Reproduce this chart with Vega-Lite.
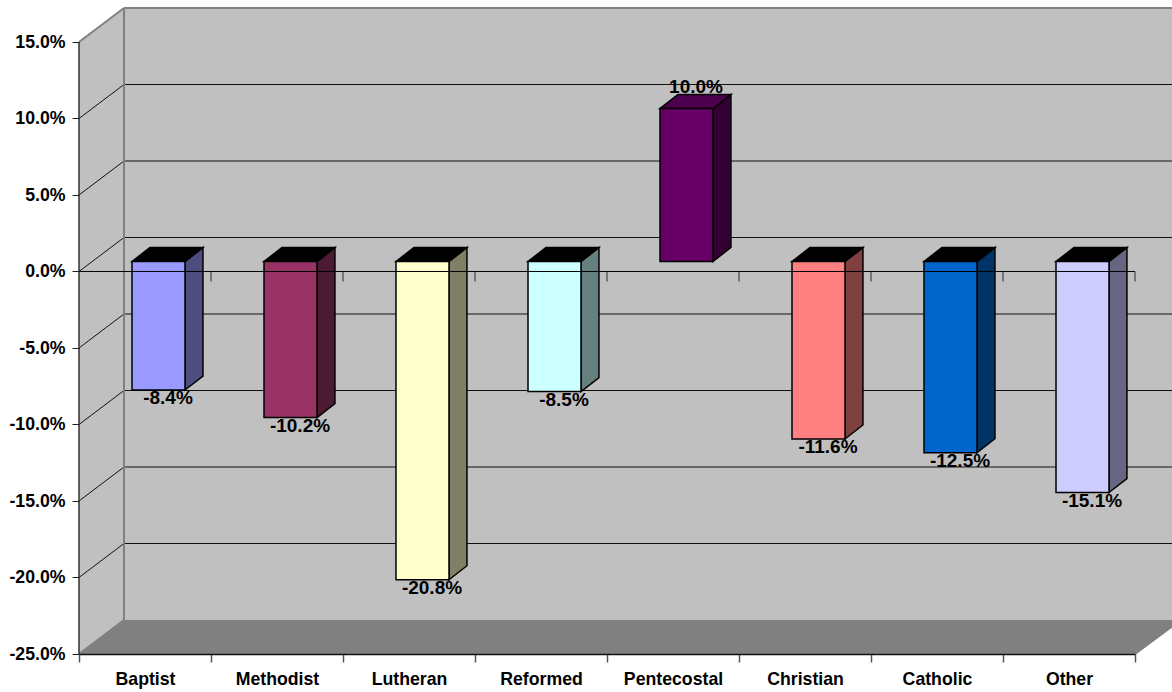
{
"$schema":"https://vega.github.io/schema/vega-lite/v6.json",
"width":1093,"height":646,
"padding":{"left":79,"top":8,"right":0,"bottom":38},
"autosize":{"type":"none"},
"background":"#FFFFFF",
"config":{"view":{"stroke":null},"font":"Liberation Sans"},
"datasets":{
"bars":[
{"category":"Baptist","value":-8.4,"label":"-8.4%"},
{"category":"Methodist","value":-10.2,"label":"-10.2%"},
{"category":"Lutheran","value":-20.8,"label":"-20.8%"},
{"category":"Reformed","value":-8.5,"label":"-8.5%"},
{"category":"Pentecostal","value":10.0,"label":"10.0%"},
{"category":"Christian","value":-11.6,"label":"-11.6%"},
{"category":"Catholic","value":-12.5,"label":"-12.5%"},
{"category":"Other","value":-15.1,"label":"-15.1%"}],
"walls":[
{"face":"left","at":0,"low":-25,"high":15},
{"face":"left","at":0.341,"low":-22.778,"high":17.222},
{"face":"back","at":0.341,"low":-22.778,"high":17.222},
{"face":"back","at":8.2803,"low":-22.778,"high":17.222},
{"face":"floor","at":0,"low":-25,"high":-25},
{"face":"floor","at":0.341,"low":-25,"high":-22.778},
{"face":"floor","at":8,"low":-25,"high":-22.778},
{"face":"floor","at":8.2803,"low":-23.2,"high":-22.778}],
"grid":[
{"at":0,"at2":0.341,"level":10,"level2":12.222},
{"at":0,"at2":0.341,"level":5,"level2":7.222},
{"at":0,"at2":0.341,"level":0,"level2":2.222},
{"at":0,"at2":0.341,"level":-5,"level2":-2.778},
{"at":0,"at2":0.341,"level":-10,"level2":-7.778},
{"at":0,"at2":0.341,"level":-15,"level2":-12.778},
{"at":0,"at2":0.341,"level":-20,"level2":-17.778},
{"at":0.341,"at2":8.2803,"level":12.222,"level2":12.222},
{"at":0.341,"at2":8.2803,"level":7.222,"level2":7.222},
{"at":0.341,"at2":8.2803,"level":2.222,"level2":2.222},
{"at":0.341,"at2":8.2803,"level":-2.778,"level2":-2.778},
{"at":0.341,"at2":8.2803,"level":-7.778,"level2":-7.778},
{"at":0.341,"at2":8.2803,"level":-12.778,"level2":-12.778},
{"at":0.341,"at2":8.2803,"level":-17.778,"level2":-17.778}],
"edges":[
{"at":0.341,"at2":0.341,"level":-22.778,"level2":17.222},
{"at":0,"at2":0.341,"level":15,"level2":17.222},
{"at":0.341,"at2":8.2803,"level":17.222,"level2":17.222},
{"at":0,"at2":0.341,"level":-25,"level2":-22.778},
{"at":8,"at2":8.2803,"level":-25,"level2":-23.2}],
"faces":[
{"face":"Baptist side","at":0.803,"low":-7.746,"high":0.654},
{"face":"Baptist side","at":0.939,"low":-6.831,"high":1.569},
{"face":"Methodist side","at":1.803,"low":-9.546,"high":0.654},
{"face":"Methodist side","at":1.939,"low":-8.631,"high":1.569},
{"face":"Lutheran side","at":2.803,"low":-20.146,"high":0.654},
{"face":"Lutheran side","at":2.939,"low":-19.231,"high":1.569},
{"face":"Reformed side","at":3.803,"low":-7.846,"high":0.654},
{"face":"Reformed side","at":3.939,"low":-6.931,"high":1.569},
{"face":"Pentecostal side","at":4.803,"low":0.654,"high":10.654},
{"face":"Pentecostal side","at":4.939,"low":1.569,"high":11.569},
{"face":"Christian side","at":5.803,"low":-10.946,"high":0.654},
{"face":"Christian side","at":5.939,"low":-10.031,"high":1.569},
{"face":"Catholic side","at":6.803,"low":-11.846,"high":0.654},
{"face":"Catholic side","at":6.939,"low":-10.931,"high":1.569},
{"face":"Other side","at":7.803,"low":-14.446,"high":0.654},
{"face":"Other side","at":7.939,"low":-13.531,"high":1.569},
{"face":"Baptist top","at":0.4015,"low":0.654,"high":0.654},
{"face":"Baptist top","at":0.5379,"low":0.654,"high":1.569},
{"face":"Baptist top","at":0.803,"low":0.654,"high":1.569},
{"face":"Baptist top","at":0.939,"low":1.569,"high":1.569},
{"face":"Methodist top","at":1.4015,"low":0.654,"high":0.654},
{"face":"Methodist top","at":1.5379,"low":0.654,"high":1.569},
{"face":"Methodist top","at":1.803,"low":0.654,"high":1.569},
{"face":"Methodist top","at":1.939,"low":1.569,"high":1.569},
{"face":"Lutheran top","at":2.4015,"low":0.654,"high":0.654},
{"face":"Lutheran top","at":2.5379,"low":0.654,"high":1.569},
{"face":"Lutheran top","at":2.803,"low":0.654,"high":1.569},
{"face":"Lutheran top","at":2.939,"low":1.569,"high":1.569},
{"face":"Reformed top","at":3.4015,"low":0.654,"high":0.654},
{"face":"Reformed top","at":3.5379,"low":0.654,"high":1.569},
{"face":"Reformed top","at":3.803,"low":0.654,"high":1.569},
{"face":"Reformed top","at":3.939,"low":1.569,"high":1.569},
{"face":"Pentecostal top","at":4.4015,"low":10.654,"high":10.654},
{"face":"Pentecostal top","at":4.5379,"low":10.654,"high":11.569},
{"face":"Pentecostal top","at":4.803,"low":10.654,"high":11.569},
{"face":"Pentecostal top","at":4.939,"low":11.569,"high":11.569},
{"face":"Christian top","at":5.4015,"low":0.654,"high":0.654},
{"face":"Christian top","at":5.5379,"low":0.654,"high":1.569},
{"face":"Christian top","at":5.803,"low":0.654,"high":1.569},
{"face":"Christian top","at":5.939,"low":1.569,"high":1.569},
{"face":"Catholic top","at":6.4015,"low":0.654,"high":0.654},
{"face":"Catholic top","at":6.5379,"low":0.654,"high":1.569},
{"face":"Catholic top","at":6.803,"low":0.654,"high":1.569},
{"face":"Catholic top","at":6.939,"low":1.569,"high":1.569},
{"face":"Other top","at":7.4015,"low":0.654,"high":0.654},
{"face":"Other top","at":7.5379,"low":0.654,"high":1.569},
{"face":"Other top","at":7.803,"low":0.654,"high":1.569},
{"face":"Other top","at":7.939,"low":1.569,"high":1.569}],
"ticks":[{"at":0},{"at":1},{"at":2},{"at":3},{"at":4},{"at":5},{"at":6},{"at":7},{"at":8}]
},
"layer":[
{"data":{"name":"walls"},"mark":{"type":"area","clip":true},
 "encoding":{
  "x":{"field":"at","type":"quantitative","axis":null,"scale":{"domain":[0,8.2803],"nice":false,"zero":false}},
  "y":{"field":"low","type":"quantitative","scale":{"domain":[-25,17.222],"nice":false,"zero":false},
   "axis":{"title":null,"values":[-25,-20,-15,-10,-5,0,5,10,15],"labelExpr":"(datum.value<0?'-':'')+format(abs(datum.value),'.1f')+'%'","domain":false,"grid":false,"tickSize":7,"tickColor":"#222222","tickWidth":1,"labelFont":"Liberation Sans","labelFontSize":17.7,"labelFontWeight":"bold","labelColor":"#000000","labelPadding":7,"labelOffset":0.5,"zindex":1}},
  "y2":{"field":"high"},
  "color":{"field":"face","type":"nominal","legend":null,"scale":{"domain":["left","back","floor"],"range":["#C0C0C0","#C0C0C0","#808080"]}}}},
{"data":{"name":"grid"},"mark":{"type":"rule","color":"#111111","strokeWidth":1},
 "encoding":{
  "x":{"field":"at","type":"quantitative","axis":null,"scale":{"domain":[0,8.2803],"nice":false,"zero":false}},
  "x2":{"field":"at2"},"y":{"field":"level","type":"quantitative"},"y2":{"field":"level2"}}},
{"data":{"name":"edges"},"mark":{"type":"rule","color":"#808080","strokeWidth":2},
 "encoding":{
  "x":{"field":"at","type":"quantitative","axis":null,"scale":{"domain":[0,8.2803],"nice":false,"zero":false}},
  "x2":{"field":"at2"},"y":{"field":"level","type":"quantitative"},"y2":{"field":"level2"}}},
{"data":{"name":"ticks"},"transform":[{"filter":"datum.at==0"}],"mark":{"type":"rule","color":"#333333","strokeWidth":1.5},
 "encoding":{
  "x":{"field":"at","type":"quantitative","axis":null,"scale":{"domain":[0,8.2803],"nice":false,"zero":false}},
  "y":{"datum":-25},"y2":{"datum":15}}},
{"data":{"name":"faces"},"mark":{"type":"area","stroke":"#000000","strokeWidth":1.5,"strokeJoin":"miter"},
 "encoding":{
  "x":{"field":"at","type":"quantitative","axis":null,"scale":{"domain":[0,8.2803],"nice":false,"zero":false}},
  "y":{"field":"low","type":"quantitative"},"y2":{"field":"high"},
  "color":{"field":"face","type":"nominal","legend":null,"scale":{
   "domain":["Baptist side","Methodist side","Lutheran side","Reformed side","Pentecostal side","Christian side","Catholic side","Other side","Baptist top","Methodist top","Lutheran top","Reformed top","Pentecostal top","Christian top","Catholic top","Other top"],
   "range":["#4D4D80","#4D1A33","#808066","#668080","#330033","#804040","#003366","#666680","#000000","#000000","#000000","#000000","#4D004D","#000000","#000000","#000000"]}}}},
{"data":{"name":"bars"},"mark":{"type":"bar","size":53,"stroke":"#000000","strokeWidth":1.5,"xOffset":13.5,"yOffset":-10,"y2Offset":-10},
 "encoding":{
  "x":{"field":"category","type":"nominal","sort":null,
   "scale":{"domain":["Baptist","Methodist","Lutheran","Reformed","Pentecostal","Christian","Catholic","Other"],"range":[0,1056],"paddingInner":0,"paddingOuter":0},
   "axis":{"title":null,"tickBand":"extent","labelAngle":0,"labelFont":"Liberation Sans","labelFontSize":17.7,"labelFontWeight":"bold","labelColor":"#000000","labelPadding":8.5,"tickSize":8,"tickColor":"#555555","tickWidth":1.5,"domainColor":"#111111","domainWidth":1.5,"zindex":1}},
  "y":{"field":"value","type":"quantitative"},"y2":{"datum":0},
  "color":{"field":"category","type":"nominal","sort":null,"legend":null,"scale":{"domain":["Baptist","Methodist","Lutheran","Reformed","Pentecostal","Christian","Catholic","Other"],"range":["#9999FF","#993366","#FFFFCC","#CCFFFF","#660066","#FF8080","#0066CC","#CCCCFF"]}}}},
{"data":{"name":"ticks"},"transform":[{"filter":"datum.at>0"}],"mark":{"type":"tick","orient":"vertical","size":10,"thickness":1.5,"color":"#333333","yOffset":5},
 "encoding":{
  "x":{"field":"at","type":"quantitative","axis":null,"scale":{"domain":[0,8.2803],"nice":false,"zero":false}},
  "y":{"datum":0}}},
{"data":{"name":"ticks"},"transform":[{"filter":"datum.at==0"}],"mark":{"type":"rule","color":"#000000","strokeWidth":1},
 "encoding":{
  "x":{"field":"at","type":"quantitative","axis":null,"scale":{"domain":[0,8.2803],"nice":false,"zero":false}},
  "x2":{"datum":8},"y":{"datum":0}}},
{"data":{"name":"bars"},"transform":[{"filter":"datum.value<0"}],"mark":{"type":"text","font":"Liberation Sans","fontSize":19,"fontWeight":"bold","color":"#000000","dx":23,"dy":-2,"baseline":"middle"},
 "encoding":{
  "x":{"field":"category","type":"nominal","sort":null,"axis":null,"scale":{"domain":["Baptist","Methodist","Lutheran","Reformed","Pentecostal","Christian","Catholic","Other"],"range":[0,1056],"paddingInner":0,"paddingOuter":0}},
  "y":{"field":"value","type":"quantitative"},
  "text":{"field":"label"}}},
{"data":{"name":"bars"},"transform":[{"filter":"datum.value>0"}],"mark":{"type":"text","font":"Liberation Sans","fontSize":19,"fontWeight":"bold","color":"#000000","dx":23,"dy":-31.5,"baseline":"middle"},
 "encoding":{
  "x":{"field":"category","type":"nominal","sort":null,"axis":null,"scale":{"domain":["Baptist","Methodist","Lutheran","Reformed","Pentecostal","Christian","Catholic","Other"],"range":[0,1056],"paddingInner":0,"paddingOuter":0}},
  "y":{"field":"value","type":"quantitative"},
  "text":{"field":"label"}}}
],
"resolve":{"scale":{"x":"independent","color":"independent"},"axis":{"x":"independent"}}
}
